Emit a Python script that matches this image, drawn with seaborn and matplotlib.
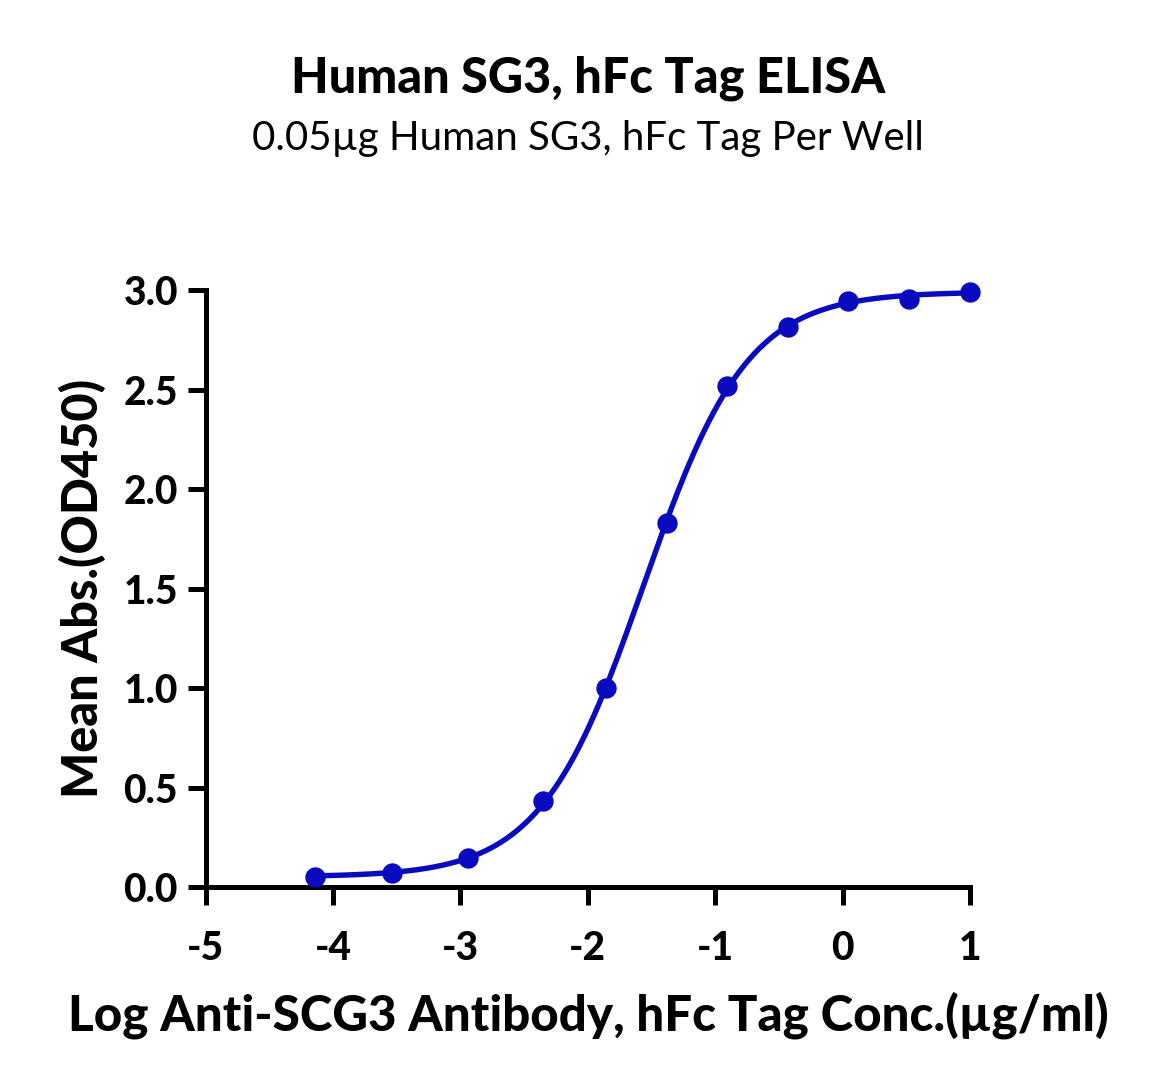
import numpy as np
import pandas as pd
import matplotlib
matplotlib.use("Agg")
import matplotlib.pyplot as plt
import seaborn as sns

# ELISA readings (log conc. in ug/ml, mean OD450)
log_conc = [-4.14, -3.54, -2.94, -2.35, -1.86, -1.38, -0.91, -0.43, 0.04, 0.52, 1.00]
mean_abs = [0.05, 0.07, 0.146, 0.432, 1.00, 1.829, 2.518, 2.814, 2.945, 2.958, 2.99]

x_ticks = [-5, -4, -3, -2, -1, 0, 1]
y_ticks = [0.0, 0.5, 1.0, 1.5, 2.0, 2.5, 3.0]

title = "Human SG3, hFc Tag ELISA"
subtitle = "0.05\u00b5g Human SG3, hFc Tag Per Well"
x_label = "Log Anti-SCG3 Antibody, hFc Tag Conc.(\u00b5g/ml)"
y_label = "Mean Abs.(OD450)"

BLUE = "#0a0abf"

df = pd.DataFrame({"log_conc": log_conc, "mean_abs": mean_abs})


def logistic(x, ec50, hill):
    return 1.0 / (1.0 + 10 ** ((ec50 - x) * hill))


# 4PL fit: grid over EC50/hill, bottom & top solved by least squares
x = df["log_conc"].values
y = df["mean_abs"].values
best = None
for ec50 in np.linspace(-2.5, -1.0, 301):
    for hill in np.linspace(0.4, 2.5, 211):
        s = logistic(x, ec50, hill)
        A = np.column_stack([np.ones_like(s), s])
        coef, *_ = np.linalg.lstsq(A, y, rcond=None)
        err = np.sum((A @ coef - y) ** 2)
        if best is None or err < best[0]:
            best = (err, ec50, hill, coef)
_, ec50, hill, coef = best
xs = np.linspace(x.min(), x.max(), 400)
fit = pd.DataFrame({"log_conc": xs,
                    "mean_abs": coef[0] + coef[1] * logistic(xs, ec50, hill)})

sns.set_style("ticks")
plt.rcParams["font.family"] = ["Lato", "DejaVu Sans"]
for key in ["text.color", "axes.labelcolor", "xtick.color", "ytick.color",
            "axes.edgecolor"]:
    plt.rcParams[key] = "black"

fig = plt.figure(figsize=(11.56, 10.87), dpi=100)
ax = fig.add_axes([0.178, 0.184, 0.661, 0.549])

sns.lineplot(data=fit, x="log_conc", y="mean_abs", ax=ax, color=BLUE,
             linewidth=3.9, clip_on=False)
sns.scatterplot(data=df, x="log_conc", y="mean_abs", ax=ax, color=BLUE,
                s=215, edgecolor=BLUE, linewidth=0, clip_on=False, zorder=5)

ax.set_xlim(-5, 1)
ax.set_ylim(0, 3)
ax.set_xticks(x_ticks)
ax.set_xticklabels([str(t) for t in x_ticks])
ax.set_yticks(y_ticks)
ax.set_yticklabels([f"{t:.1f}" for t in y_ticks])

for side in ["top", "right"]:
    ax.spines[side].set_visible(False)
for side in ["left", "bottom"]:
    ax.spines[side].set_linewidth(3.6)

ax.tick_params(axis="both", direction="out", length=13, width=3.6,
               labelsize=28)
ax.tick_params(axis="y", pad=7)
ax.tick_params(axis="x", pad=18)
for lab in ax.get_xticklabels() + ax.get_yticklabels():
    lab.set_fontweight("black")

ax.set_xlabel(x_label, fontsize=35.5, fontweight="black")
ax.set_ylabel(y_label, fontsize=35, fontweight="black")
ax.xaxis.set_label_coords(0.5, -0.214)
ax.xaxis.label.set_va("center")
ax.yaxis.set_label_coords(-0.162, 0.5)
ax.yaxis.label.set_va("center")

fig.text(0.509, 0.928, title, ha="center", va="center",
         fontsize=35, fontweight="black")
fig.text(0.509, 0.873, subtitle, ha="center", va="center", fontsize=29)

fig.savefig("out.png", dpi=100, facecolor="white")
